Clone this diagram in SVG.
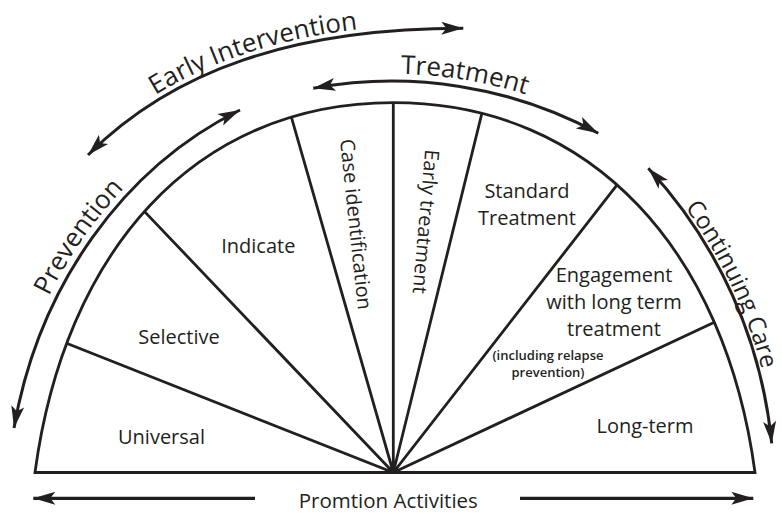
<svg xmlns="http://www.w3.org/2000/svg" width="782" height="513" viewBox="0 0 782 513">
<style>
.ln{fill:none;stroke:#231f20;stroke-width:2.8;stroke-linecap:butt;stroke-linejoin:miter}
.arr{fill:none;stroke:#231f20;stroke-width:3;marker-start:url(#ah);marker-end:url(#ah)}
.arr1{fill:none;stroke:#231f20;stroke-width:3.2;marker-end:url(#ah)}
text{font-family:"Open Sans","Noto Sans","DejaVu Sans",sans-serif;fill:#231f20}
.lbl{font-size:20px;text-anchor:middle}
.big{font-size:26px;text-anchor:middle}
.small{font-size:13px;font-weight:600;text-anchor:middle}
</style>
<defs>
<marker id="ah" markerUnits="userSpaceOnUse" markerWidth="30" markerHeight="20" refX="0" refY="0" orient="auto-start-reverse" overflow="visible">
<path d="M0,0 L-22,-6.5 L-17,0 L-22,6.5 Z" fill="#231f20"/>
</marker>
<path id="shape" d="M35,472.5 C64.3,253 193.3,102.7 393.3,102.7 C593.3,102.7 725.7,253 755,472.5 Z"/>
<clipPath id="clip"><use href="#shape"/></clipPath>
<path id="tpEarly" d="M86,150 C170.8,65.2 291.3,23.3 461.3,23.3"/>
<path id="tpTreat" d="M236.9,102 A441 441 0 0 1 671.9,174"/>
<path id="tpPrev" d="M2.4,449.8 A395 445 0 0 1 247.2,100.5"/>
<path id="tpCare" d="M578,102.3 A474 474 0 0 1 774.9,533.4"/>
</defs>

<g id="fan">
<use href="#shape" class="ln"/>
<g clip-path="url(#clip)">
<path class="ln" d="M393.3,472.5 L40.6,333 M393.3,472.5 L124.1,190.1 M393.3,472.5 L283.6,90 M393.3,472.5 L393.3,73.1 M393.3,472.5 L488.8,85.3 M393.3,472.5 L636.3,160.2 M393.3,472.5 L740,310.3"/>
</g>
</g>

<g id="connectors">
<path id="arrEarly" class="arr" d="M88,155 C172.8,70.2 293.3,28.3 463.3,28.3"/>
<path id="arrTreat" class="arr" d="M313.3,88.3 A433.7 433.7 0 0 1 598.3,133.3"/>
<path id="arrPrev" class="arr" d="M14,428 A389 439 0 0 1 240,110"/>
<path id="arrCare" class="arr" d="M648.3,168.3 A470.8 470.8 0 0 1 771.7,443.3"/>
<path id="arrPromL" class="arr1" d="M255,498.3 L33.3,498.3"/>
<path id="arrPromR" class="arr1" d="M520,498.3 L753.3,498.3"/>
</g>

<g id="node-universal"><text class="lbl" x="161.5" y="444">Universal</text></g>
<g id="node-selective"><text class="lbl" x="179" y="344">Selective</text></g>
<g id="node-indicate"><text class="lbl" x="258.3" y="253">Indicate</text></g>
<g id="node-case"><text class="lbl" transform="translate(349,225) rotate(84)">Case identification</text></g>
<g id="node-early"><text class="lbl" transform="translate(419,221) rotate(95)">Early treatment</text></g>
<g id="node-standard"><text class="lbl" x="527" y="198">Standard</text><text class="lbl" x="527" y="225">Treatment</text></g>
<g id="node-engagement">
<text class="lbl" x="614" y="282">Engagement</text>
<text class="lbl" x="614" y="308.5">with long term</text>
<text class="lbl" x="614" y="336">treatment</text>
<text class="small" x="548" y="360">(including relapse</text>
<text class="small" x="548" y="377">prevention)</text>
</g>
<g id="node-longterm"><text class="lbl" x="645" y="433">Long-term</text></g>

<g id="label-prevention"><text class="big"><textPath href="#tpPrev" startOffset="51%">Prevention</textPath></text></g>
<g id="label-early"><text class="big"><textPath href="#tpEarly" startOffset="196">Early Intervention</textPath></text></g>
<g id="label-treatment"><text class="big"><textPath href="#tpTreat" startOffset="50%">Treatment</textPath></text></g>
<g id="label-care"><text class="big" style="font-size:24px"><textPath href="#tpCare" startOffset="48.5%">Continuing Care</textPath></text></g>
<g id="label-promotion"><text class="lbl" x="388.3" y="508" style="font-size:20.5px">Promtion Activities</text></g>
</svg>
